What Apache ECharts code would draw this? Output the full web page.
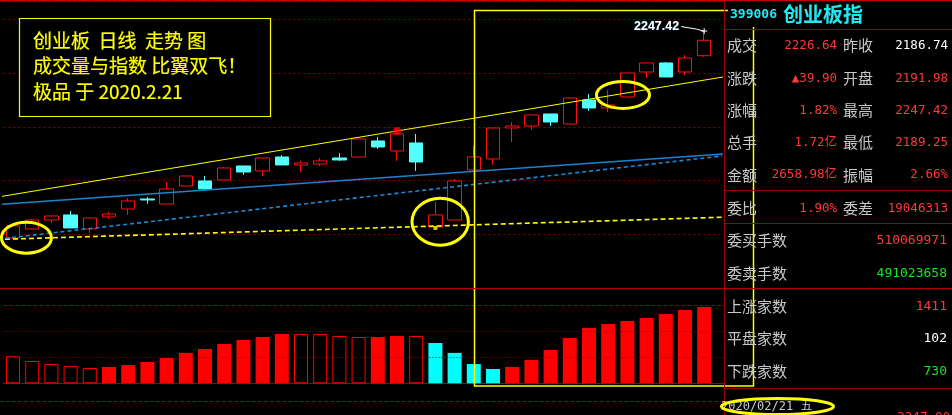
<!DOCTYPE html>
<html><head><meta charset="utf-8">
<script src="https://cdn.jsdelivr.net/npm/echarts@6/dist/echarts.min.js"></script>
<style>html,body{margin:0;padding:0;background:#000;overflow:hidden}#c{width:952px;height:415px}</style>
</head><body><div id="c"></div>
<script>
// ---- data ----
const categories = ['2019-12-24','2019-12-25','2019-12-26','2019-12-27','2019-12-30','2019-12-31',
 '2020-01-02','2020-01-03','2020-01-06','2020-01-07','2020-01-08','2020-01-09','2020-01-10','2020-01-13','2020-01-14',
 '2020-01-15','2020-01-16','2020-01-17','2020-01-20','2020-01-21','2020-01-22','2020-01-23',
 '2020-02-03','2020-02-04','2020-02-05','2020-02-06','2020-02-07','2020-02-10','2020-02-11','2020-02-12','2020-02-13',
 '2020-02-14','2020-02-17','2020-02-18','2020-02-19','2020-02-20','2020-02-21',''];
const opens  = [1781.8,1802.1,1822.3,1833.6,1802.1,1829.1,1847.0,1869.6,1858.3,1898.8,1910.1,1912.3,1943.8,1932.6,1964.1,1946.1,1948.3,1961.8,1964.1,2000.1,1977.6,1995.6,1806.6,1822.3,1934.8,1959.6,2029.3,2033.8,2060.8,2038.3,2092.3,2074.3,2099.1,2155.3,2175.6,2155.3,2191.98];
const closes = [1808.8,1822.3,1831.3,1804.3,1826.8,1835.8,1865.1,1867.3,1892.1,1921.3,1892.1,1939.3,1930.3,1961.8,1946.1,1950.6,1955.1,1957.3,2004.6,1986.6,2015.8,1952.8,1833.6,1910.1,1964.1,2029.3,2033.8,2058.6,2042.8,2096.8,2074.3,2081.1,2153.1,2175.6,2144.1,2186.74,2226.64];
const lows   = [1779.6,1801.0,1815.6,1804.3,1793.0,1824.6,1833.6,1858.3,1858.3,1898.8,1889.8,1912.3,1923.6,1921.3,1946.1,1930.3,1943.8,1955.1,1964.1,1982.1,1955.1,1932.6,1804.3,1822.3,1934.8,1946.1,1997.8,2024.8,2033.8,2038.3,2067.6,2065.3,2099.1,2141.8,2144.1,2148.6,2189.25];
const highs  = [1811.1,1824.6,1831.3,1842.6,1829.1,1840.3,1871.8,1874.1,1907.8,1921.3,1921.3,1941.6,1943.8,1961.8,1968.6,1955.1,1961.8,1973.1,2004.6,2009.1,2029.3,2015.8,1862.8,1914.6,1988.8,2029.3,2042.8,2060.8,2060.8,2099.1,2105.8,2114.8,2153.1,2175.6,2177.8,2193.6,2247.42];
const volumes = [104,86,74,67,59,63,70,82,97,117,132,151,167,178,190,190,190,182,178,178,182,182,155,117,74,55,63,90,128,174,213,228,240,251,267,282,293];
const volKind = ['hollow','hollow','hollow','hollow','hollow','solid','solid','solid','solid','solid','solid','solid','solid','solid','solid',
 'hollow','hollow','hollow','hollow','solid','solid','hollow','down','down','down','down',
 'solid','solid','solid','solid','solid','solid','solid','solid','solid','solid','solid'];
// straight drawn lines: [index, price] end points
const upperTrend = [[-0.68,1874.7],[36.98,2144.0]];
const blueLine   = [[-0.68,1857.6],[36.98,1970.8]];
const blueDash   = [[-0.42,1781.1],[36.93,1966.3]];
const yellowDash = [[-0.42,1778.9],[36.93,1828.4]];
const circleMarks = [[0.70,1782.5],[22.25,1818.5],[31.77,2103.6]];
const noteLines = ['创业板  日线  走势 图','成交量与指数 比翼双飞！','极品 于 2020.2.21'];
const code = '399006', indexName = '创业板指';
const quoteRows = [
  ['成交','2226.64','昨收','2186.74'],
  ['涨跌','▲39.90','开盘','2191.98'],
  ['涨幅','1.82%','最高','2247.42'],
  ['总手','1.72亿','最低','2189.25'],
  ['金额','2658.98亿','振幅','2.66%'],
  ['委比','1.90%','委差','19046313']
];
const bookRows = [['委买手数','510069971'],['委卖手数','491023658'],['上涨家数','1411'],['平盘家数','102'],['下跌家数','730']];
const dateText = '2020/02/21 五';

// ---- chart ----
const RED='#ff1010', CYAN='#54ffff', VCYAN='#00ffff', DRED='#9a0000', GRID='#8b0000';
const chart = echarts.init(document.getElementById('c'), null, {renderer:'canvas'});
const candleData = categories.map((c,i)=> (opens[i]==null) ? '-' : [opens[i],closes[i],lows[i],highs[i]]);
const volData = volumes.map((v,i)=>{
  const k = volKind[i];
  const st = k==='hollow' ? {color:'#000',borderColor:'#ff0000',borderWidth:1}
           : k==='down' ? {color:VCYAN} : {color:'#ff0000'};
  return {value:v, itemStyle:st};
});
const plain = {show:false};
const lineSeries = (d,color,w,type)=>({type:'line',xAxisIndex:2,yAxisIndex:0,data:d,showSymbol:false,symbol:'none',clip:false,
  lineStyle:{color:color,width:w,type:type},silent:true,z:3});
chart.setOption({
  animation:false,
  backgroundColor:'#000',
  grid:[
    {left:3.4, top:1, width:729.6, height:287},
    {left:3.4, top:288.3, width:729.6, height:95}
  ],
  xAxis:[
    {type:'category',gridIndex:0,data:categories,boundaryGap:true,axisLine:plain,axisTick:plain,axisLabel:plain,splitLine:plain},
    {type:'category',gridIndex:1,data:categories,boundaryGap:true,axisLine:{show:true,lineStyle:{color:DRED,width:1}},axisTick:plain,axisLabel:plain,splitLine:plain},
    {type:'value',gridIndex:0,min:-0.5,max:37.5,show:false}
  ],
  yAxis:[
    {type:'value',gridIndex:0,min:1669.2,max:2315.05,interval:120.94,axisLine:plain,axisTick:plain,axisLabel:plain,
     splitLine:{show:true,lineStyle:{color:GRID,type:[2,3],width:1}}},
    {type:'value',gridIndex:1,min:0,max:365.4,axisLine:plain,axisTick:plain,axisLabel:plain,splitLine:plain}
  ],
  series:[
    {type:'candlestick',xAxisIndex:0,yAxisIndex:0,data:candleData,barWidth:14,
     itemStyle:{color:'#000',color0:CYAN,borderColor:RED,borderColor0:CYAN,borderWidth:1},z:2},
    lineSeries(yellowDash,'#ffff00',1.6,[5,3]),
    lineSeries(blueDash,'#1a8ad8',1.6,[4,3]),
    lineSeries(blueLine,'#1a84d0',1.5,'solid'),
    lineSeries(upperTrend,'#ffff00',1,'solid'),
    {type:'scatter',xAxisIndex:0,yAxisIndex:0,data:[[20,highs[20]]],symbol:'circle',symbolSize:8,symbolOffset:[0,3],
     itemStyle:{color:'#ff0000'},silent:true,z:4},
    {type:'scatter',xAxisIndex:0,yAxisIndex:0,data:[[22,lows[22]]],symbol:'rect',symbolSize:4,
     itemStyle:{color:'#ffff00'},silent:true,z:4},
    {type:'bar',xAxisIndex:1,yAxisIndex:1,data:volData,barWidth:14,z:2,
     markLine:{silent:true,symbol:'none',label:{show:false},
       lineStyle:{color:GRID,type:[1,2],width:1},
       data:[{yAxis:100},{yAxis:200},{yAxis:300,lineStyle:{type:[4,2],color:GRID}}]}}
  ]
});

// ---- decorations ----
const g = [];
const P = (pt)=>chart.convertToPixel({xAxisIndex:2,yAxisIndex:0},pt);
g.push({type:'line',shape:{x1:0,y1:0.5,x2:952,y2:0.5},style:{stroke:'#c80000',lineWidth:2},z:50});
g.push({type:'line',shape:{x1:0,y1:401.5,x2:724,y2:401.5},style:{stroke:GRID,lineWidth:1,lineDash:[4,2]},z:50});
// annotation box
g.push({type:'rect',shape:{x:19.5,y:18.5,width:251,height:98},style:{fill:'#000',stroke:'#ffff00',lineWidth:1.2},z:60});
const noteY=[41,66,91.5];
noteLines.forEach((t,i)=>g.push({type:'text',x:33,y:noteY[i],style:{text:t,fill:'#ffff00',font:'19px "Noto Sans CJK SC"',verticalAlign:'middle',align:'left',stroke:'#ffff00',lineWidth:0.2},z:61}));
// ellipses positioned in data space
const radii=[[25,15.5],[28.2,23.5],[26.5,13.5]];
circleMarks.forEach((c,i)=>{const p=P(c);g.push({type:'ellipse',shape:{cx:p[0],cy:p[1],rx:radii[i][0],ry:radii[i][1]},style:{fill:null,stroke:'#ffff00',lineWidth:3},z:62});});
// highest label
const last = highs.length-1;
const hp = chart.convertToPixel({xAxisIndex:0,yAxisIndex:0},[last,highs[last]]);
g.push({type:'polyline',shape:{points:[[hp[0]-23,hp[1]-4.5],[hp[0]-8,hp[1]-2],[hp[0],hp[1]]]},style:{stroke:'#ffffff',lineWidth:1,fill:null},z:63});
g.push({type:'line',shape:{x1:hp[0]-3,y1:hp[1],x2:hp[0]+3,y2:hp[1]},style:{stroke:'#fff',lineWidth:1},z:63});
g.push({type:'line',shape:{x1:hp[0],y1:hp[1]-3,x2:hp[0],y2:hp[1]+3},style:{stroke:'#fff',lineWidth:1},z:63});
g.push({type:'text',x:hp[0]-25,y:hp[1]-5,style:{text:highs[last].toFixed(2),fill:'#ffffff',font:'bold 12.5px "Liberation Sans"',align:'right',verticalAlign:'middle',textShadowColor:'#3060c0',textShadowBlur:1},z:63});
// right panel background
g.push({type:'rect',shape:{x:724,y:1,width:228,height:414},style:{fill:'#000'},z:80});
// yellow box (drawn region)
g.push({type:'rect',shape:{x:474.5,y:10.5,width:279,height:375.5},style:{fill:null,stroke:'#ffff00',lineWidth:1.5},z:85});
// panel lines
const hl=(y,x1,x2,c)=>g.push({type:'line',shape:{x1:x1,y1:y,x2:x2,y2:y},style:{stroke:c||DRED,lineWidth:1},z:86});
hl(29.5,724,952); hl(190.5,724,952); hl(223.5,724,952); hl(288.5,0,952,'#b00000'); hl(388.5,724,952);
g.push({type:'line',shape:{x1:724.5,y1:0,x2:724.5,y2:415},style:{stroke:DRED,lineWidth:1},z:86});
// header
g.push({type:'rect',shape:{x:728,y:2,width:140,height:25},style:{fill:'#000'},z:90});
g.push({type:'text',x:730,y:15,style:{text:code,fill:'#22e8f0',font:'bold 13px "DejaVu Sans Mono"',verticalAlign:'middle'},z:91});
g.push({type:'text',x:783,y:14,style:{text:indexName,fill:'#22e8f0',font:'bold 20px "Noto Sans CJK SC"',verticalAlign:'middle'},z:91});
const LBL='#c8c8c8', VR='#ff3838', VG='#22e022';
const LF='15px "Noto Sans CJK SC"', VF='12.5px "DejaVu Sans Mono","Noto Sans CJK SC"';
const rowY=[45.7,78.3,110.7,142.7,175,208.3];
const rightColor=['#ffffff',VR,VR,VR,VR,VR];
quoteRows.forEach((r,i)=>{
  const y=rowY[i];
  g.push({type:'text',x:727,y:y,style:{text:r[0],fill:LBL,font:LF,verticalAlign:'middle'},z:91});
  g.push({type:'text',x:837,y:y,style:{text:r[1],fill:VR,font:VF,align:'right',verticalAlign:'middle'},z:91});
  g.push({type:'text',x:843,y:y,style:{text:r[2],fill:LBL,font:LF,verticalAlign:'middle'},z:91});
  g.push({type:'text',x:948,y:y,style:{text:r[3],fill:rightColor[i],font:VF,align:'right',verticalAlign:'middle'},z:91});
});
const bookY=[240.7,273.3,306.7,338.3,371.7];
const bookColor=[VR,VG,VR,'#ffffff',VG];
bookRows.forEach((r,i)=>{
  g.push({type:'text',x:727,y:bookY[i],style:{text:r[0],fill:LBL,font:LF,verticalAlign:'middle'},z:91});
  g.push({type:'text',x:947,y:bookY[i],style:{text:r[1],fill:bookColor[i],font:'13px "DejaVu Sans Mono"',align:'right',verticalAlign:'middle'},z:91});
});
g.push({type:'text',x:721,y:407,style:{text:dateText,fill:LBL,font:'12px "DejaVu Sans Mono","Noto Sans CJK SC"',verticalAlign:'middle'},z:91});
g.push({type:'ellipse',shape:{cx:777.5,cy:406.5,rx:56,ry:8},style:{fill:null,stroke:'#ffff00',lineWidth:3},z:92});
g.push({type:'text',x:950,y:418,style:{text:'2247.00',fill:VR,font:'12.5px "DejaVu Sans Mono"',align:'right',verticalAlign:'middle'},z:91});
chart.setOption({graphic:{elements:g}});
</script></body></html>
